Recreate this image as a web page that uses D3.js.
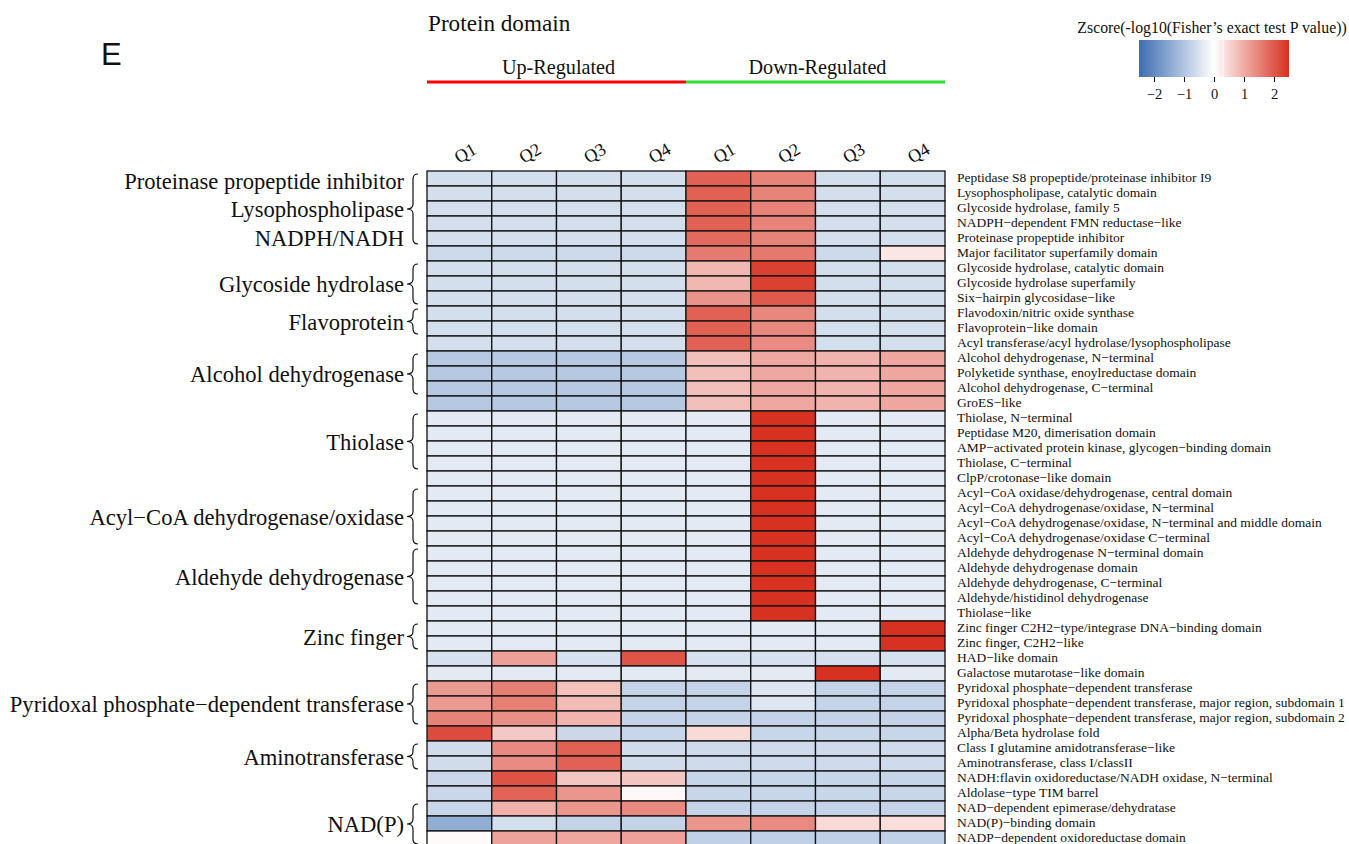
<!DOCTYPE html>
<html>
<head>
<meta charset="utf-8">
<script src="https://cdn.jsdelivr.net/npm/d3@7"></script>
<style>
  html, body { margin: 0; padding: 0; background: #fff; }
  svg { display: block; }
  text { font-family: "Liberation Serif", "Times New Roman", serif; fill: #111; }
</style>
</head>
<body>
<svg id="chart" width="1349" height="844"></svg>
<script>
// ---- data -------------------------------------------------------------
const panelLetter = "E";
const chartTitle = "Protein domain";
const legendTitle = "Zscore(-log10(Fisher\u2019s exact test P value))";
const regulationGroups = ["Up-Regulated", "Down-Regulated"];
const quartiles = ["Q1", "Q2", "Q3", "Q4"];
const legendTicks = [-2, -1, 0, 1, 2];

const domainNames = [
  "Peptidase S8 propeptide/proteinase inhibitor I9",
  "Lysophospholipase, catalytic domain",
  "Glycoside hydrolase, family 5",
  "NADPH\u2212dependent FMN reductase\u2212like",
  "Proteinase propeptide inhibitor",
  "Major facilitator superfamily domain",
  "Glycoside hydrolase, catalytic domain",
  "Glycoside hydrolase superfamily",
  "Six\u2212hairpin glycosidase\u2212like",
  "Flavodoxin/nitric oxide synthase",
  "Flavoprotein\u2212like domain",
  "Acyl transferase/acyl hydrolase/lysophospholipase",
  "Alcohol dehydrogenase, N\u2212terminal",
  "Polyketide synthase, enoylreductase domain",
  "Alcohol dehydrogenase, C\u2212terminal",
  "GroES\u2212like",
  "Thiolase, N\u2212terminal",
  "Peptidase M20, dimerisation domain",
  "AMP\u2212activated protein kinase, glycogen\u2212binding domain",
  "Thiolase, C\u2212terminal",
  "ClpP/crotonase\u2212like domain",
  "Acyl\u2212CoA oxidase/dehydrogenase, central domain",
  "Acyl\u2212CoA dehydrogenase/oxidase, N\u2212terminal",
  "Acyl\u2212CoA dehydrogenase/oxidase, N\u2212terminal and middle domain",
  "Acyl\u2212CoA dehydrogenase/oxidase C\u2212terminal",
  "Aldehyde dehydrogenase N\u2212terminal domain",
  "Aldehyde dehydrogenase domain",
  "Aldehyde dehydrogenase, C\u2212terminal",
  "Aldehyde/histidinol dehydrogenase",
  "Thiolase\u2212like",
  "Zinc finger C2H2\u2212type/integrase DNA\u2212binding domain",
  "Zinc finger, C2H2\u2212like",
  "HAD\u2212like domain",
  "Galactose mutarotase\u2212like domain",
  "Pyridoxal phosphate\u2212dependent transferase",
  "Pyridoxal phosphate\u2212dependent transferase, major region, subdomain 1",
  "Pyridoxal phosphate\u2212dependent transferase, major region, subdomain 2",
  "Alpha/Beta hydrolase fold",
  "Class I glutamine amidotransferase\u2212like",
  "Aminotransferase, class I/classII",
  "NADH:flavin oxidoreductase/NADH oxidase, N\u2212terminal",
  "Aldolase\u2212type TIM barrel",
  "NAD\u2212dependent epimerase/dehydratase",
  "NAD(P)\u2212binding domain",
  "NADP\u2212dependent oxidoreductase domain"
];

// z-scores, one row per domain, columns Q1..Q4
const upRegulated = [
  [-0.55, -0.55, -0.55, -0.55],
  [-0.55, -0.55, -0.55, -0.55],
  [-0.55, -0.55, -0.55, -0.55],
  [-0.55, -0.55, -0.55, -0.55],
  [-0.55, -0.55, -0.55, -0.55],
  [-0.64, -0.64, -0.64, -0.64],
  [-0.55, -0.55, -0.55, -0.55],
  [-0.55, -0.55, -0.55, -0.55],
  [-0.55, -0.55, -0.55, -0.55],
  [-0.55, -0.55, -0.55, -0.55],
  [-0.55, -0.55, -0.55, -0.55],
  [-0.55, -0.55, -0.55, -0.55],
  [-0.94, -0.94, -0.94, -0.94],
  [-0.94, -0.94, -0.94, -0.94],
  [-0.94, -0.94, -0.94, -0.94],
  [-0.94, -0.94, -0.94, -0.94],
  [-0.354, -0.354, -0.354, -0.354],
  [-0.354, -0.354, -0.354, -0.354],
  [-0.354, -0.354, -0.354, -0.354],
  [-0.354, -0.354, -0.354, -0.354],
  [-0.354, -0.354, -0.354, -0.354],
  [-0.354, -0.354, -0.354, -0.354],
  [-0.354, -0.354, -0.354, -0.354],
  [-0.354, -0.354, -0.354, -0.354],
  [-0.354, -0.354, -0.354, -0.354],
  [-0.354, -0.354, -0.354, -0.354],
  [-0.354, -0.354, -0.354, -0.354],
  [-0.354, -0.354, -0.354, -0.354],
  [-0.354, -0.354, -0.354, -0.354],
  [-0.354, -0.354, -0.354, -0.354],
  [-0.354, -0.354, -0.354, -0.354],
  [-0.354, -0.354, -0.354, -0.354],
  [-0.53, 1.15, -0.53, 2.05],
  [-0.354, -0.354, -0.354, -0.354],
  [1.22, 1.55, 0.74, -0.75],
  [1.22, 1.55, 0.80, -0.75],
  [1.48, 1.35, 0.90, -0.75],
  [2.17, 0.66, -0.66, -0.70],
  [-0.60, 1.41, 1.90, -0.60],
  [-0.60, 1.40, 1.90, -0.60],
  [-0.68, 2.08, 0.69, 0.69],
  [-0.68, 1.87, 1.27, 0.08],
  [-0.70, 0.94, 1.27, 1.42],
  [-1.40, -0.55, -0.75, -0.75],
  [0.06, 1.12, 1.07, 1.13]
];

const downRegulated = [
  [1.90, 1.50, -0.55, -0.55],
  [1.90, 1.50, -0.55, -0.55],
  [1.90, 1.50, -0.55, -0.55],
  [1.90, 1.50, -0.55, -0.55],
  [1.80, 1.50, -0.55, -0.55],
  [1.60, 1.62, -0.64, 0.30],
  [0.87, 2.30, -0.55, -0.55],
  [0.87, 2.30, -0.55, -0.55],
  [1.30, 2.00, -0.55, -0.55],
  [1.90, 1.45, -0.55, -0.55],
  [1.90, 1.45, -0.55, -0.55],
  [1.90, 1.40, -0.55, -0.55],
  [0.77, 1.05, 0.92, 1.07],
  [0.77, 1.05, 0.92, 1.07],
  [0.77, 1.05, 0.92, 1.07],
  [0.77, 1.05, 0.92, 1.07],
  [-0.354, 2.475, -0.354, -0.354],
  [-0.354, 2.475, -0.354, -0.354],
  [-0.354, 2.475, -0.354, -0.354],
  [-0.354, 2.475, -0.354, -0.354],
  [-0.354, 2.475, -0.354, -0.354],
  [-0.354, 2.475, -0.354, -0.354],
  [-0.354, 2.475, -0.354, -0.354],
  [-0.354, 2.475, -0.354, -0.354],
  [-0.354, 2.475, -0.354, -0.354],
  [-0.354, 2.475, -0.354, -0.354],
  [-0.354, 2.475, -0.354, -0.354],
  [-0.354, 2.475, -0.354, -0.354],
  [-0.354, 2.475, -0.354, -0.354],
  [-0.354, 2.475, -0.354, -0.354],
  [-0.354, -0.354, -0.354, 2.475],
  [-0.354, -0.354, -0.354, 2.475],
  [-0.53, -0.53, -0.53, -0.53],
  [-0.354, -0.354, 2.475, -0.354],
  [-0.75, -0.42, -0.75, -0.75],
  [-0.75, -0.42, -0.75, -0.75],
  [-0.75, -0.75, -0.75, -0.75],
  [0.45, -0.70, -0.70, -0.70],
  [-0.62, -0.62, -0.62, -0.62],
  [-0.62, -0.62, -0.62, -0.62],
  [-0.72, -0.72, -0.72, -0.72],
  [-0.70, -0.70, -0.70, -0.70],
  [-0.75, -0.75, -0.75, -0.75],
  [1.28, 1.41, 0.45, 0.40],
  [-0.81, -0.81, -0.81, -0.81]
];

// bracketed functional groups (first and last row index, inclusive)
const familyLabels = [
  ["Proteinase propeptide inhibitor", "Lysophospholipase", "NADPH/NADH"],
  ["Glycoside hydrolase"],
  ["Flavoprotein"],
  ["Alcohol dehydrogenase"],
  ["Thiolase"],
  ["Acyl\u2212CoA dehydrogenase/oxidase"],
  ["Aldehyde dehydrogenase"],
  ["Zinc finger"],
  ["Pyridoxal phosphate\u2212dependent transferase"],
  ["Aminotransferase"],
  ["NAD(P)"]
];
const familyFirstRow = [0, 6, 9, 12, 16, 21, 25, 30, 34, 38, 42];
const familyLastRow  = [4, 8, 10, 14, 19, 24, 28, 31, 36, 39, 44];

// ---- layout -----------------------------------------------------------
const svg = d3.select("#chart");
const grid = { left: 427, right: 945, top: 171, rowH: 15 };
const columnKeys = regulationGroups.flatMap(g => quartiles.map(q => g + "|" + q));

const x = d3.scaleBand().domain(columnKeys).range([grid.left, grid.right]);
const y = d3.scaleBand().domain(d3.range(domainNames.length))
  .range([grid.top, grid.top + grid.rowH * domainNames.length]);

const color = d3.scaleLinear()
  .domain([-2.5, 0, 2.5])
  .range(["#3c6db1", "#ffffff", "#d7301f"])
  .clamp(true);

// cells
const cells = [];
domainNames.forEach((name, r) => {
  upRegulated[r].forEach((v, c) => cells.push({ r, key: columnKeys[c], v }));
  downRegulated[r].forEach((v, c) => cells.push({ r, key: columnKeys[c + 4], v }));
});

svg.append("g").selectAll("rect").data(cells).join("rect")
  .attr("x", d => x(d.key))
  .attr("y", d => y(d.r))
  .attr("width", x.bandwidth())
  .attr("height", y.bandwidth())
  .attr("fill", d => color(d.v))
  .attr("stroke", "#111")
  .attr("stroke-width", 1.3);

// row labels (right)
svg.append("g").selectAll("text").data(domainNames).join("text")
  .attr("x", grid.right + 12)
  .attr("y", (d, i) => y(i) + y.bandwidth() / 2 - 1.2)
  .attr("dominant-baseline", "central")
  .attr("font-size", 13.5)
  .text(d => d);

// column labels, slanted
svg.append("g").selectAll("text").data(columnKeys).join("text")
  .attr("transform", d => `translate(${x(d) + x.bandwidth() / 2 + 6},${153}) rotate(-30)`)
  .attr("text-anchor", "middle")
  .attr("dominant-baseline", "central")
  .attr("font-size", 18)
  .text(d => d.split("|")[1]);

// regulation group headers and coloured bars
const groupColors = ["#ff0000", "#2ee02e"];
regulationGroups.forEach((g, gi) => {
  const x0 = x(columnKeys[gi * 4]);
  const x1 = x(columnKeys[gi * 4 + 3]) + x.bandwidth();
  svg.append("line")
    .attr("x1", x0).attr("x2", x1).attr("y1", 82).attr("y2", 82)
    .attr("stroke", groupColors[gi]).attr("stroke-width", 3.2);
  svg.append("text")
    .attr("x", (x0 + x1) / 2 + 2).attr("y", 74)
    .attr("text-anchor", "middle").attr("font-size", 20.2)
    .text(g);
});

// title and panel letter
svg.append("text").attr("x", 428).attr("y", 31).attr("font-size", 23.2).text(chartTitle);
svg.append("text").attr("x", 101).attr("y", 65)
  .style("font-family", "'Liberation Sans', Arial, sans-serif")
  .attr("font-size", 31).text(panelLetter);

// family braces and labels
const braceG = svg.append("g");
familyLabels.forEach((labels, i) => {
  const y0 = y(familyFirstRow[i]) + 3;
  const y1 = y(familyLastRow[i]) + y.bandwidth() - 2;
  const ym = (y0 + y1) / 2;
  const xe = 418, xb = 413, xt = 407, r = 5;
  const p = `M${xe},${y0} Q${xb},${y0} ${xb},${y0 + r} L${xb},${ym - r} Q${xb},${ym} ${xt},${ym}` +
            ` Q${xb},${ym} ${xb},${ym + r} L${xb},${y1 - r} Q${xb},${y1} ${xe},${y1}`;
  braceG.append("path").attr("d", p).attr("fill", "none").attr("stroke", "#111").attr("stroke-width", 1.2);
  const lineGap = 28.5;
  labels.forEach((lab, k) => {
    svg.append("text")
      .attr("x", 404)
      .attr("y", ym + (k - (labels.length - 1) / 2) * lineGap + 0.5)
      .attr("text-anchor", "end")
      .attr("dominant-baseline", "central")
      .attr("font-size", 22.6)
      .text(lab);
  });
});

// colour legend
const lg = { x0: 1139, x1: 1289, y0: 40, y1: 77 };
const lx = d3.scaleLinear().domain([-2.5, 2.5]).range([lg.x0, lg.x1]);
const defs = svg.append("defs");
const grad = defs.append("linearGradient").attr("id", "zgrad").attr("x1", "0%").attr("x2", "100%");
d3.range(0, 1.0001, 0.05).forEach(t => {
  grad.append("stop").attr("offset", (t * 100) + "%").attr("stop-color", color(-2.5 + 5 * t));
});
svg.append("rect").attr("x", lg.x0).attr("y", lg.y0)
  .attr("width", lg.x1 - lg.x0).attr("height", lg.y1 - lg.y0)
  .attr("fill", "url(#zgrad)");
svg.append("line").attr("x1", lx(0.3)).attr("x2", lx(0.3)).attr("y1", lg.y0).attr("y2", lg.y1)
  .attr("stroke", "#fff").attr("stroke-width", 1);
svg.append("text").attr("x", 1212).attr("y", 33)
  .attr("text-anchor", "middle").attr("font-size", 15.8).text(legendTitle);

const axis = d3.axisBottom(lx).tickValues(legendTicks).tickSize(5)
  .tickFormat(d => d < 0 ? "\u2212" + Math.abs(d) : String(d));
const ag = svg.append("g").attr("transform", `translate(0,${lg.y1})`).call(axis);
ag.select(".domain").remove();
ag.selectAll(".tick line").attr("stroke", "#111");
ag.selectAll(".tick text").attr("font-size", 14.5).attr("dy", "0.95em")
  .style("font-family", "'Liberation Serif', 'Times New Roman', serif").attr("fill", "#111");
</script>
</body>
</html>
